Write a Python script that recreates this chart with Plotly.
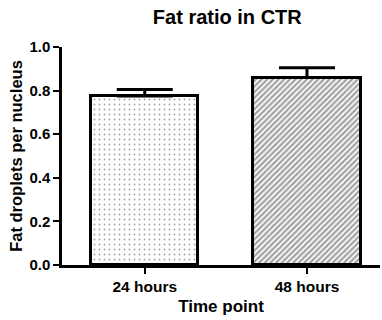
import plotly.graph_objects as go

categories = ["24 hours", "48 hours"]
values = [0.775, 0.860]
errors = [0.030, 0.045]
y_ticks = [0.0, 0.2, 0.4, 0.6, 0.8, 1.0]

font_family = "Arial"

def b(s):
    return "<b>" + s + "</b>"

fig = go.Figure()
fig.add_trace(go.Bar(
    x=[0, 1], y=values, width=0.66,
    marker=dict(
        color=["white", "white"],
        line=dict(color="black", width=3),
        pattern=dict(shape=[".", "/"], fgcolor=["#222222", "#000000"], bgcolor=["white", "#a0a0a0"],
                     size=[5, 4], solidity=[0.1, 0.55]),
    ),
    error_y=dict(type="data", symmetric=False, array=errors, arrayminus=[0, 0],
                 color="black", thickness=3, width=28),
    showlegend=False,
))

fig.update_layout(
    width=382, height=320,
    margin=dict(l=62, r=2, t=47, b=55),
    plot_bgcolor="white", paper_bgcolor="white",
    font=dict(family=font_family, color="black", size=15, weight=700),
    title=dict(text=b("Fat ratio in CTR"), x=0.595, xanchor="center", y=0.948, yanchor="middle",
               font=dict(size=20, family=font_family, weight=700)),
    bargap=0,
)
fig.update_xaxes(
    range=[-0.51, 1.45], tickvals=[0, 1], ticktext=[b(c) for c in categories],
    showline=True, linecolor="black", linewidth=2.5,
    ticks="outside", ticklen=6, tickwidth=2, tickcolor="black",
    showgrid=False, zeroline=False,
    title=dict(text=b("Time point"), font=dict(size=17, family=font_family, weight=700), standoff=6),
    tickfont=dict(size=15.5, family=font_family, weight=700),
)
fig.update_yaxes(
    range=[0, 1.0], tickvals=y_ticks, ticktext=[b(f"{v:.1f}") for v in y_ticks],
    showline=True, linecolor="black", linewidth=2.5,
    ticks="outside", ticklen=6, tickwidth=2, tickcolor="black",
    showgrid=False, zeroline=False,
    title=dict(text=b("Fat droplets per nucleus"), font=dict(size=16.5, family=font_family, weight=700), standoff=3),
    tickfont=dict(size=15, family=font_family, weight=700),
)

fig.write_html("out.html")
